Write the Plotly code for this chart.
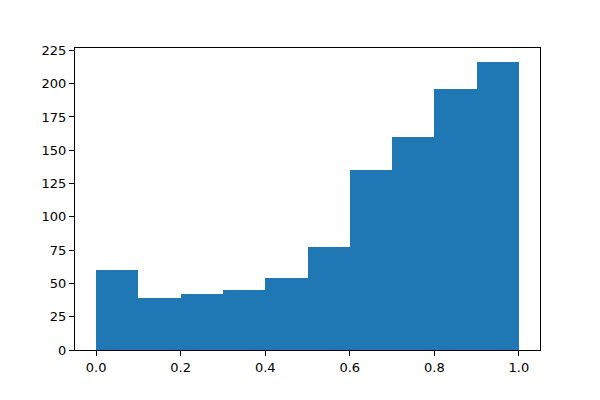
import plotly.graph_objects as go

bin_left = [0.0, 0.1, 0.2, 0.3, 0.4, 0.5, 0.6, 0.7, 0.8, 0.9]
counts = [60, 39, 42, 45, 54, 77, 135, 160, 196, 216]
bin_width = 0.1
x_ticks = [0.0, 0.2, 0.4, 0.6, 0.8, 1.0]
x_tick_labels = ["0.0", "0.2", "0.4", "0.6", "0.8", "1.0"]
y_ticks = [0, 25, 50, 75, 100, 125, 150, 175, 200, 225]

fig = go.Figure(go.Bar(
    x=[b + bin_width / 2 for b in bin_left],
    y=counts,
    width=[bin_width] * len(counts),
    marker=dict(color="#1f77b4", line=dict(width=0)),
    hoverinfo="skip",
))

axis_common = dict(
    showline=True, linecolor="black", linewidth=1, mirror=True,
    ticks="outside", ticklen=5, tickwidth=1, tickcolor="black",
    showgrid=False, zeroline=False,
    tickfont=dict(family="DejaVu Sans", size=13, color="black"),
)

fig.update_layout(
    width=600, height=400,
    margin=dict(l=75, r=60, t=48, b=50),
    paper_bgcolor="white", plot_bgcolor="white",
    bargap=0, showlegend=False,
    xaxis=dict(range=[-0.05, 1.05], tickvals=x_ticks, ticktext=x_tick_labels, **axis_common),
    yaxis=dict(range=[0, 226.8], tickvals=y_ticks, **axis_common),
)

fig.write_html(
    "out.html",
    config={"displayModeBar": False, "staticPlot": True},
    post_script="document.body.style.margin='0';document.body.style.padding='0';",
)
